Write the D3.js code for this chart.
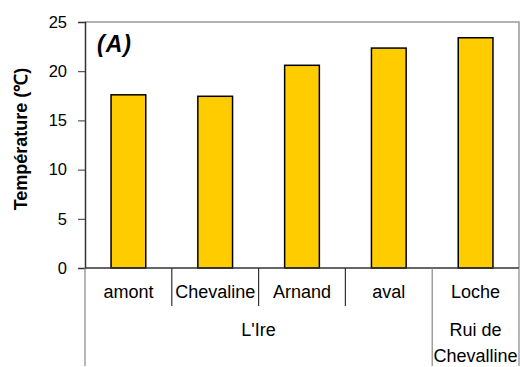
<!DOCTYPE html>
<html>
<head>
<meta charset="utf-8">
<script src="https://cdn.jsdelivr.net/npm/d3@7"></script>
<style>
  body { margin: 0; background: #fff; }
  svg { display: block; font-family: "Liberation Sans", Arial, sans-serif; }
</style>
</head>
<body>
<svg id="chart" width="520" height="367"></svg>
<script>
const categories = ["amont", "Chevaline", "Arnand", "aval", "Loche"];
const values = [17.6, 17.45, 20.6, 22.35, 23.4];
const groups = [
  { name: ["L'Ire"], from: 0, to: 3 },
  { name: ["Rui de", "Chevalline"], from: 4, to: 4 }
];
const yTicks = [0, 5, 10, 15, 20, 25];
const yLabel = "Température (℃)";
const panelLabel = "(A)";

const FONT = "'Liberation Sans', Arial, sans-serif";
const svg = d3.select("#chart");
const m = { left: 85, right: 519, top: 22, bottom: 268 };

const x = d3.scaleBand().domain(categories).range([m.left, m.right]).paddingInner(0).paddingOuter(0);
const y = d3.scaleLinear().domain([0, 25]).range([m.bottom, m.top]);

// plot border (top & right)
svg.append("path")
  .attr("d", `M${m.left},${m.top}H${m.right}V${m.bottom}`)
  .attr("fill", "none").attr("stroke", "#999").attr("stroke-width", 1.5);

// bars
const bw = x.bandwidth() * 0.4;
svg.selectAll("rect.bar").data(categories).enter().append("rect")
  .attr("class", "bar")
  .attr("x", d => x(d) + (x.bandwidth() - bw) / 2)
  .attr("y", (d, i) => y(values[i]))
  .attr("width", bw)
  .attr("height", (d, i) => y(0) - y(values[i]))
  .attr("fill", "#FFCC00").attr("stroke", "#000").attr("stroke-width", 1.5);

// y axis
const yAxis = svg.append("g").attr("transform", `translate(${m.left},0)`)
  .call(d3.axisLeft(y).tickValues(yTicks).tickSize(7).tickPadding(11).tickFormat(d3.format("d")));
yAxis.attr("font-family", FONT);
yAxis.select(".domain").attr("stroke", "#333").attr("stroke-width", 1.5);
yAxis.selectAll(".tick line").attr("stroke", "#333");
yAxis.selectAll("text").attr("font-size", 16.5).attr("fill", "#000").attr("font-family", FONT);

// x axis baseline
svg.append("line").attr("x1", m.left).attr("x2", m.right).attr("y1", y(0)).attr("y2", y(0))
  .attr("stroke", "#333").attr("stroke-width", 1.5);

// category separators
const bounds = categories.map(c => x(c)).concat([m.right]);
const groupBounds = new Set();
groups.forEach(g => { groupBounds.add(g.from); groupBounds.add(g.to + 1); });
bounds.forEach((bx, i) => {
  const isGroup = groupBounds.has(i);
  svg.append("line").attr("x1", bx).attr("x2", bx)
    .attr("y1", y(0)).attr("y2", isGroup ? 366 : 306)
    .attr("stroke", isGroup ? "#888" : "#333").attr("stroke-width", 1.2);
});

// category labels
svg.selectAll("text.cat").data(categories).enter().append("text")
  .attr("class", "cat")
  .attr("x", d => x(d) + x.bandwidth() / 2)
  .attr("y", 298)
  .attr("text-anchor", "middle").attr("font-size", 18).attr("font-family", FONT).attr("fill", "#000")
  .text(d => d);

// group labels
groups.forEach(g => {
  const cx = (x(categories[g.from]) + x(categories[g.to]) + x.bandwidth()) / 2;
  const t = svg.append("text").attr("text-anchor", "middle").attr("font-size", 18)
    .attr("font-family", FONT).attr("fill", "#000");
  g.name.forEach((line, k) => {
    t.append("tspan").attr("x", cx).attr("y", 336 + k * 26).text(line);
  });
});

// y label
svg.append("text")
  .attr("transform", `translate(27,139) rotate(-90)`)
  .attr("text-anchor", "middle").attr("font-size", 18).attr("font-weight", "bold")
  .attr("font-family", FONT).attr("fill", "#000")
  .text(yLabel);

// panel label
svg.append("text").attr("x", 97).attr("y", 52)
  .attr("font-size", 23).attr("font-weight", "bold").attr("font-style", "italic")
  .attr("letter-spacing", 1).attr("font-family", FONT).attr("fill", "#000")
  .text(panelLabel);
</script>
</body>
</html>
